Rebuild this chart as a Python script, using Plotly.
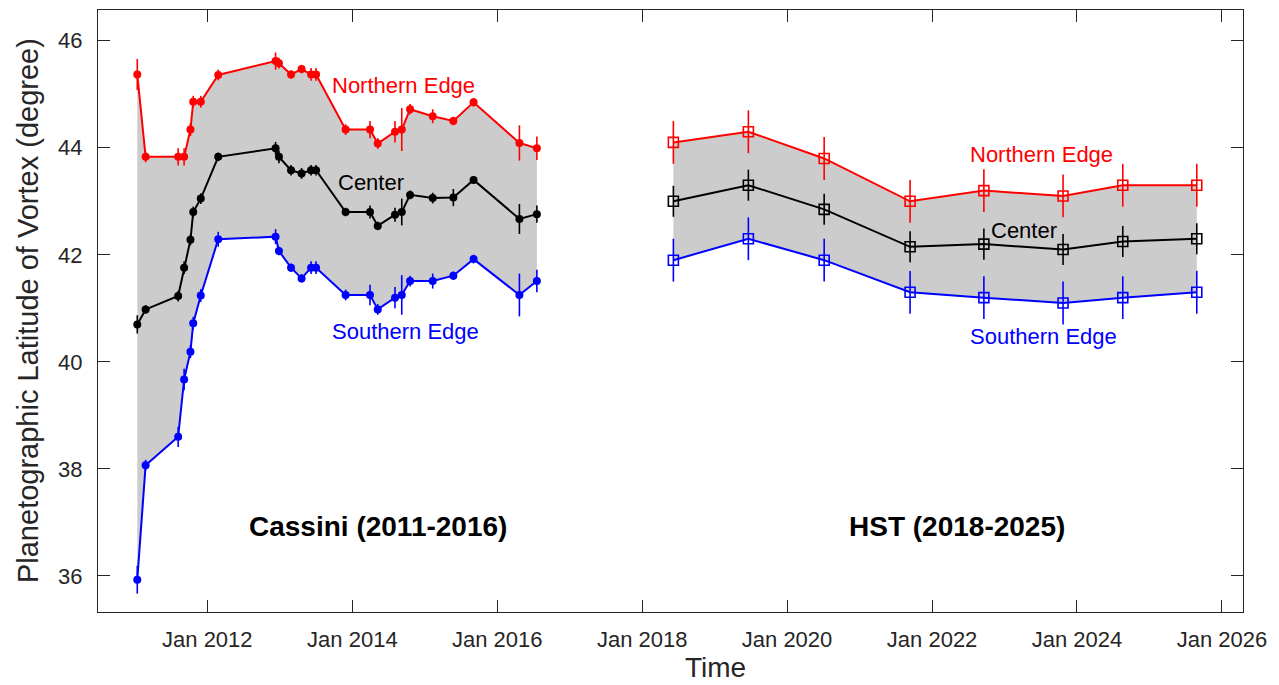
import plotly.graph_objects as go

# ---- Cassini (2011-2016) ----
cassini_dates = [
    "2011-01-13", "2011-02-24", "2011-08-07", "2011-09-06", "2011-10-08",
    "2011-10-22", "2011-11-29", "2012-02-25", "2012-12-10", "2012-12-27",
    "2013-02-26", "2013-04-20", "2013-06-07", "2013-07-02", "2013-11-28",
    "2014-03-31", "2014-05-09", "2014-08-04", "2014-09-07", "2014-10-19",
    "2015-02-10", "2015-05-25", "2015-09-04", "2016-04-22", "2016-07-19",
]
cassini_north = [45.37, 43.83, 43.83, 43.83, 44.34, 44.86, 44.86, 45.36, 45.62, 45.58,
                 45.37, 45.47, 45.37, 45.37, 44.34, 44.34, 44.08, 44.30, 44.34, 44.72,
                 44.59, 44.50, 44.85, 44.09, 43.99]
cassini_center = [40.70, 40.98, 41.23, 41.76, 42.28, 42.80, 43.05, 43.83, 43.99, 43.83,
                  43.58, 43.52, 43.58, 43.58, 42.80, 42.80, 42.54, 42.75, 42.80, 43.12,
                  43.06, 43.07, 43.40, 42.67, 42.76]
cassini_south = [35.93, 38.07, 38.60, 39.67, 40.19, 40.72, 41.24, 42.29, 42.34, 42.07,
                 41.76, 41.56, 41.76, 41.76, 41.25, 41.25, 40.98, 41.20, 41.25, 41.51,
                 41.51, 41.61, 41.92, 41.25, 41.51]
cassini_north_err = [0.29, 0.10, 0.16, 0.16, 0.12, 0.11, 0.11, 0.10, 0.16, 0.10,
                     0.08, 0.08, 0.12, 0.12, 0.10, 0.16, 0.10, 0.20, 0.40, 0.10,
                     0.13, 0.08, 0.08, 0.33, 0.22]
cassini_center_err = [0.17, 0.08, 0.10, 0.12, 0.10, 0.10, 0.10, 0.08, 0.12, 0.12,
                      0.10, 0.10, 0.10, 0.10, 0.08, 0.12, 0.08, 0.13, 0.25, 0.08,
                      0.10, 0.16, 0.06, 0.28, 0.16]
cassini_south_err = [0.26, 0.10, 0.19, 0.20, 0.12, 0.12, 0.12, 0.14, 0.14, 0.08,
                     0.08, 0.08, 0.12, 0.12, 0.10, 0.19, 0.10, 0.20, 0.37, 0.10,
                     0.14, 0.08, 0.08, 0.40, 0.21]

# ---- HST (2018-2025) ----
hst_dates = ["2018-06-07", "2019-06-20", "2020-07-06", "2021-09-12",
             "2022-09-19", "2023-10-23", "2024-08-19", "2025-08-27"]
hst_north = [44.10, 44.30, 43.80, 43.00, 43.20, 43.10, 43.30, 43.30]
hst_center = [43.00, 43.30, 42.85, 42.15, 42.20, 42.10, 42.25, 42.30]
hst_south = [41.90, 42.30, 41.90, 41.30, 41.20, 41.10, 41.20, 41.30]
hst_edge_err = [0.40] * 8
hst_center_err = [0.29] * 8

RED = "#ff0000"
BLUE = "#0000ff"
BLACK = "#000000"
BAND = "rgb(204,204,204)"
AXIS = "#262626"
FONT = "Liberation Sans, Arial, Helvetica, sans-serif"

fig = go.Figure()

# shaded band between the southern and northern edges of each data set
for dates, south, north in [(cassini_dates, cassini_south, cassini_north),
                            (hst_dates, hst_south, hst_north)]:
    fig.add_trace(go.Scatter(x=dates, y=south, mode="lines", line=dict(width=0),
                             showlegend=False, hoverinfo="skip"))
    fig.add_trace(go.Scatter(x=dates, y=north, mode="lines", line=dict(width=0),
                             fill="tonexty", fillcolor=BAND,
                             showlegend=False, hoverinfo="skip"))


def add_series(dates, vals, errs, color, symbol, size, name):
    open_marker = symbol.endswith("open")
    fig.add_trace(go.Scatter(
        x=dates, y=vals, mode="lines+markers", name=name, showlegend=False,
        line=dict(color=color, width=2),
        marker=dict(symbol=symbol, size=size, color=color,
                    line=dict(width=1.6 if open_marker else 0, color=color)),
        error_y=dict(type="data", array=errs, visible=True,
                     color=color, thickness=1.6, width=0),
    ))


add_series(cassini_dates, cassini_north, cassini_north_err, RED, "circle", 8, "Northern Edge")
add_series(cassini_dates, cassini_center, cassini_center_err, BLACK, "circle", 8, "Center")
add_series(cassini_dates, cassini_south, cassini_south_err, BLUE, "circle", 8, "Southern Edge")
add_series(hst_dates, hst_north, hst_edge_err, RED, "square-open", 10, "Northern Edge")
add_series(hst_dates, hst_center, hst_center_err, BLACK, "square-open", 10, "Center")
add_series(hst_dates, hst_south, hst_edge_err, BLUE, "square-open", 10, "Southern Edge")

# in-plot labels
labels = [
    ("2014-09-18", 45.17, "Northern Edge", RED, 22, False),
    ("2014-04-05", 43.36, "Center", BLACK, 22, False),
    ("2014-09-28", 40.57, "Southern Edge", BLUE, 22, False),
    ("2023-07-08", 43.88, "Northern Edge", RED, 22, False),
    ("2023-04-08", 42.46, "Center", BLACK, 22, False),
    ("2023-07-18", 40.48, "Southern Edge", BLUE, 22, False),
    ("2014-05-08", 36.92, "Cassini (2011-2016)", BLACK, 28, True),
    ("2022-05-08", 36.92, "HST (2018-2025)", BLACK, 28, True),
]
for x, y, text, color, size, bold in labels:
    fig.add_annotation(x=x, y=y, text=f"<b>{text}</b>" if bold else text,
                       showarrow=False, xanchor="center", yanchor="middle",
                       font=dict(family=FONT, size=size, color=color))

# axis titles
fig.add_annotation(xref="paper", yref="paper", x=0.5397, y=-0.0915,
                   text="Time", showarrow=False, xanchor="center", yanchor="middle",
                   font=dict(family=FONT, size=28, color=AXIS))
fig.add_annotation(xref="paper", yref="paper", x=-0.0611, y=0.5,
                   text="Planetographic Latitude of Vortex (degree)", textangle=-90,
                   showarrow=False, xanchor="center", yanchor="middle",
                   font=dict(family=FONT, size=29, color=AXIS))

fig.update_layout(
    width=1279, height=685,
    margin=dict(l=98, r=36, t=10, b=73),
    paper_bgcolor="white", plot_bgcolor="white",
    font=dict(family=FONT, color=AXIS),
    showlegend=False,
)
fig.update_xaxes(
    type="date", range=["2010-06-29", "2026-04-17"],
    tick0="2012-01-01", dtick="M24", tickformat="%b %Y",
    ticks="inside", ticklen=12, tickcolor=AXIS, tickwidth=1,
    showline=True, linecolor=AXIS, linewidth=1, mirror="ticks",
    showgrid=False, zeroline=False,
    tickfont=dict(family=FONT, size=22, color=AXIS),
    ticklabelstandoff=8,
)
fig.update_yaxes(
    range=[35.327, 46.574], tick0=36, dtick=2,
    ticks="inside", ticklen=12, tickcolor=AXIS, tickwidth=1,
    showline=True, linecolor=AXIS, linewidth=1, mirror="ticks",
    showgrid=False, zeroline=False,
    tickfont=dict(family=FONT, size=22, color=AXIS),
    ticklabelstandoff=10,
)

fig.write_html("out.html")
